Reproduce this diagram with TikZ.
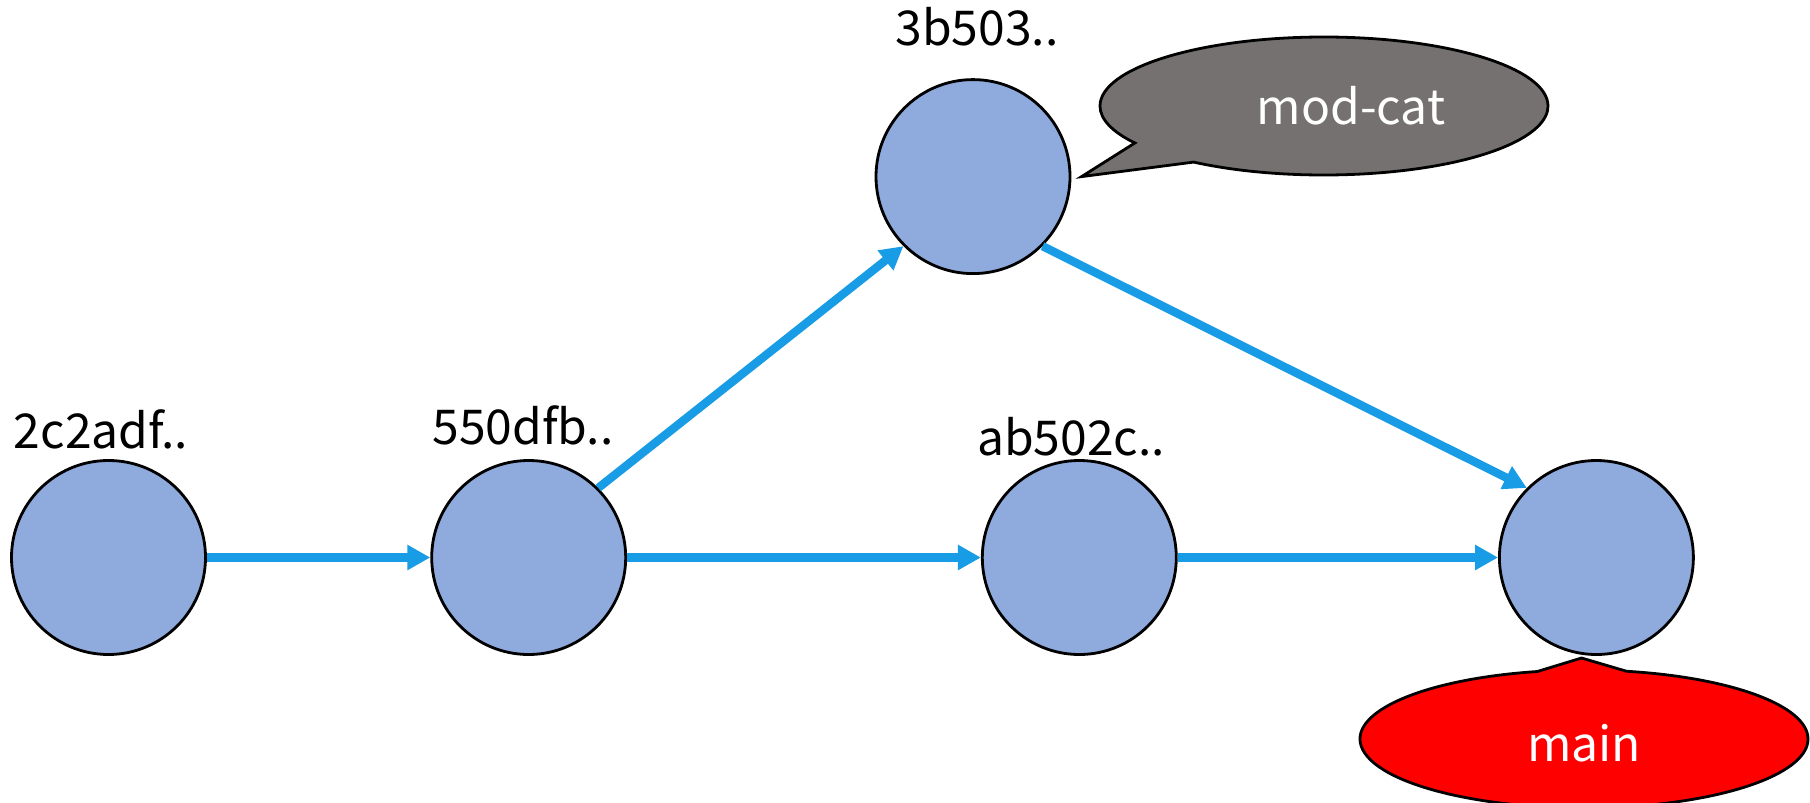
\documentclass[tikz,border=0pt]{standalone}
\usepackage{fontspec}
\setmainfont{Noto Sans CJK JP}
\usetikzlibrary{shapes.callouts,arrows.meta}
\definecolor{nodeblue}{HTML}{8FAADC}
\definecolor{arrowblue}{RGB}{23,156,229}
\definecolor{calloutgray}{HTML}{767171}
\begin{document}
\begin{tikzpicture}[x=0.5pt,y=-0.5pt,
 commit/.style={circle,draw=black,line width=1.4pt,fill=nodeblue,minimum size=97pt,inner sep=0pt},
 lbl/.style={font=\fontsize{24pt}{28pt}\selectfont,inner sep=0pt},
 edge/.style={draw=arrowblue,line width=4.2pt,-{Triangle[length=11.5pt,width=12pt]}},
 tag/.style={ellipse callout,draw=black,line width=1.4pt,minimum width=224pt,minimum height=69pt,inner sep=0pt},
 tagtext/.style={font=\fontsize{24pt}{28pt}\selectfont,text=white,inner sep=0pt}]
\useasboundingbox (0,0) rectangle (1810,803);
% commits
\node[commit] (a) at (108.5,557.5) {};
\node[commit] (b) at (528.7,557.5) {};
\node[commit] (c) at (973,176.6) {};
\node[commit] (d) at (1079.3,557.5) {};
\node[commit] (e) at (1596.4,557.5) {};
% labels
\node[lbl] (la) at (101,429) {2c2adf..};
\node[lbl] (lb) at (523,425) {550dfb..};
\node[lbl] (lc) at (977,27) {3b503..};
\node[lbl] (ld) at (1071,437) {ab502c..};
% edges
\draw[edge] (a.east) -- (b.west);
\draw[edge] (b.east) -- (d.west);
\draw[edge] (d.east) -- (e.west);
\draw[edge] (b.45) -- (c.225);
\draw[edge] (c.-45) -- (e.135);
% callouts
\coordinate (tipc) at (1081.6,176.6);
\node[tag,fill=calloutgray,callout absolute pointer={(tipc)},callout pointer arc=22] (tagc) at (1324,106) {};
\node[tagtext] (tagctext) at (1351,106) {mod-cat};
\coordinate (tipe) at (1581.5,658);
\node[tag,fill=red,callout absolute pointer={(tipe)},callout pointer arc=23] (tage) at (1584,739) {};
\node[tagtext] (tagetext) at (1584,743) {main};
\end{tikzpicture}
\end{document}
